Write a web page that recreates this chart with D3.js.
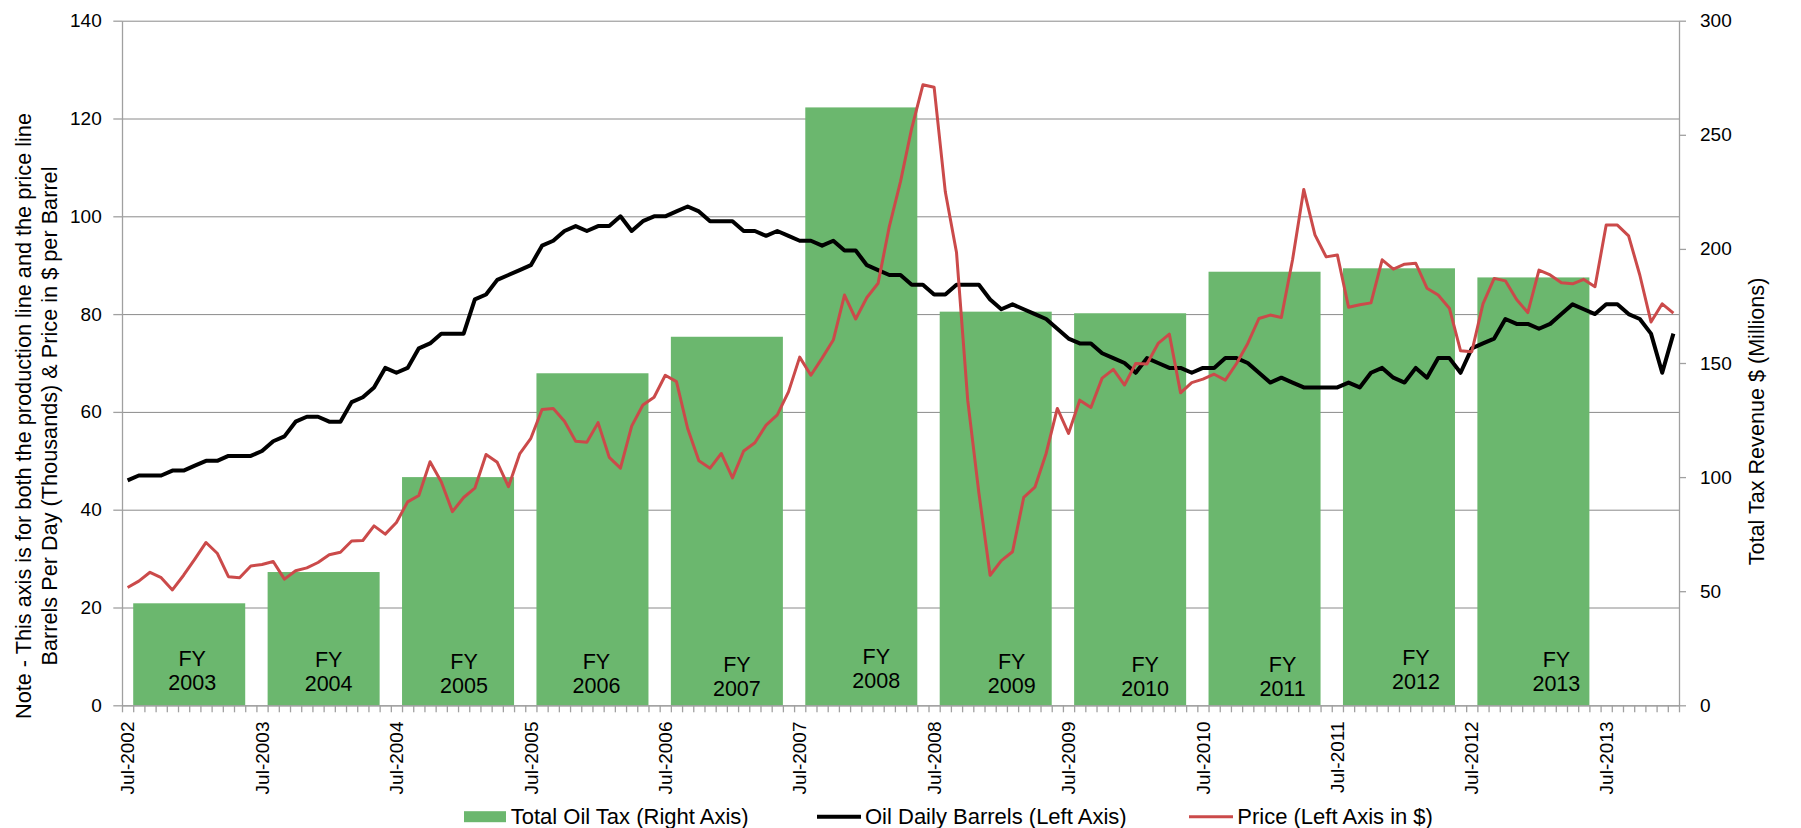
<!DOCTYPE html>
<html>
<head>
<meta charset="utf-8">
<script src="https://cdn.jsdelivr.net/npm/d3@7"></script>
<style>
  body { margin: 0; background: #fff; }
  svg { display: block; font-family: "Liberation Sans", Arial, sans-serif; }
  .grid line { stroke: #8a8a8a; stroke-width: 1; }
  .grid path { display: none; }
  .axis path, .axis line { stroke: #a0a0a0; stroke-width: 1.3; }
  .axis text { fill: #000; }
</style>
</head>
<body>
<div id="chart"></div>
<script>
'use strict';

// monthly categories Jul-2002 .. Jan-2014
var months = d3.timeMonth.range(new Date(2002, 6, 1), new Date(2014, 1, 1));
var monthLabels = ['Jul-2002', 'Jul-2003', 'Jul-2004', 'Jul-2005', 'Jul-2006', 'Jul-2007',
  'Jul-2008', 'Jul-2009', 'Jul-2010', 'Jul-2011', 'Jul-2012', 'Jul-2013'];

// oil daily barrels (thousands), left axis
var barrels = [
  46, 47, 47, 47, 48, 48, 49, 50, 50, 51, 51, 51,
  52, 54, 55, 58, 59, 59, 58, 58, 62, 63, 65, 69,
  68, 69, 73, 74, 76, 76, 76, 83, 84, 87, 88, 89,
  90, 94, 95, 97, 98, 97, 98, 98, 100, 97, 99, 100,
  100, 101, 102, 101, 99, 99, 99, 97, 97, 96, 97, 96,
  95, 95, 94, 95, 93, 93, 90, 89, 88, 88, 86, 86,
  84, 84, 86, 86, 86, 83, 81, 82, 81, 80, 79, 77,
  75, 74, 74, 72, 71, 70, 68, 71, 70, 69, 69, 68,
  69, 69, 71, 71, 70, 68, 66, 67, 66, 65, 65, 65,
  65, 66, 65, 68, 69, 67, 66, 69, 67, 71, 71, 68,
  73, 74, 75, 79, 78, 78, 77, 78, 80, 82, 81, 80,
  82, 82, 80, 79, 76, 68, 76
];

// price $ per barrel, left axis
var price = [
  24.1, 25.4, 27.2, 26.1, 23.6, 26.6, 29.9, 33.3, 31.1, 26.3, 26.1, 28.5,
  28.8, 29.4, 25.8, 27.5, 28.1, 29.2, 30.8, 31.3, 33.6, 33.7, 36.7, 35.0,
  37.4, 41.6, 42.9, 49.8, 45.7, 39.6, 42.5, 44.4, 51.3, 49.7, 44.7, 51.4,
  54.6, 60.5, 60.7, 58.1, 54.0, 53.8, 57.8, 50.7, 48.5, 57.1, 61.4, 63.0,
  67.5, 66.2, 56.6, 50.0, 48.5, 51.5, 46.5, 52.0, 53.7, 57.3, 59.4, 64.1,
  71.2, 67.5, 71.0, 74.7, 83.9, 79.0, 83.4, 86.3, 97.9, 107.1, 118.0, 126.9,
  126.4, 105.0, 92.6, 62.4, 43.4, 26.6, 29.6, 31.4, 42.5, 44.6, 51.5, 60.7,
  55.6, 62.4, 60.9, 66.9, 68.7, 65.5, 69.9, 69.8, 74.0, 75.9, 63.9, 66.0,
  66.7, 67.7, 66.5, 69.9, 74.0, 79.1, 79.8, 79.3, 91.1, 105.5, 96.2, 91.7,
  92.1, 81.4, 81.9, 82.3, 91.1, 89.2, 90.2, 90.4, 85.3, 83.9, 81.2, 72.5,
  72.3, 82.1, 87.3, 86.8, 83.0, 80.3, 89.0, 88.0, 86.4, 86.2, 87.1, 85.6,
  98.2, 98.2, 96.0, 88.0, 78.4, 82.1, 80.2
];

// fiscal years and total oil tax ($ millions), right axis
var fyYears = ['2003', '2004', '2005', '2006', '2007', '2008', '2009', '2010', '2011', '2012', '2013'];
var oilTax = [44.7, 58.4, 100, 145.5, 161.5, 262, 172.5, 171.8, 190, 191.5, 187.5];

var leftTicks = [0, 20, 40, 60, 80, 100, 120, 140];
var rightTicks = [0, 50, 100, 150, 200, 250, 300];

// hand placed FY text boxes: nudge from bar centre
var fyNudge = [[3, 0], [5, 1], [6, 3], [4, 3], [10, 6], [15, -2], [16, 3], [15, 6], [18, 6], [17, -1], [23, 1]];

var graph = { width: 1801, height: 828, left: 122, right: 1679, top: 20.7, bottom: 705.3 };

var svg = d3.select('#chart').append('svg')
  .attr('width', graph.width)
  .attr('height', graph.height);

var xMonth = d3.scaleBand().domain(months).range([graph.left, graph.right]).padding(0);
var xEdge = d3.scaleLinear().domain([0, months.length]).range([graph.left, graph.right]);
var xFY = d3.scaleBand().domain(fyYears)
  .range([graph.left, xEdge(fyYears.length * 12)])
  .paddingInner(2 / 12).paddingOuter(1 / 12);
var yLeft = d3.scaleLinear().domain([0, 140]).range([graph.bottom, graph.top]);
var yRight = d3.scaleLinear().domain([0, 300]).range([graph.bottom, graph.top]);

// gridlines
svg.append('g')
  .attr('class', 'grid')
  .attr('transform', 'translate(' + graph.left + ',0)')
  .call(d3.axisLeft(yLeft).tickValues(leftTicks)
    .tickSize(-(graph.right - graph.left)).tickFormat(''));

// bars
svg.append('g').selectAll('rect')
  .data(fyYears)
  .enter().append('rect')
  .attr('x', function(d) { return xFY(d); })
  .attr('width', xFY.bandwidth())
  .attr('y', function(d, i) { return yRight(oilTax[i]); })
  .attr('height', function(d, i) { return graph.bottom - yRight(oilTax[i]); })
  .attr('fill', '#6bb76e');

// FY labels
var fyText = svg.append('g').selectAll('text')
  .data(fyYears)
  .enter().append('text')
  .attr('text-anchor', 'middle')
  .attr('font-size', 21.5)
  .attr('fill', '#000')
  .attr('transform', function(d, i) {
    return 'translate(' + (xFY(d) + xFY.bandwidth() / 2 + fyNudge[i][0]) + ',' + (658 + fyNudge[i][1]) + ')';
  });
fyText.append('tspan').attr('x', 0).attr('y', 0).attr('dy', '0.35em').text('FY');
fyText.append('tspan').attr('x', 0).attr('y', 24.5).attr('dy', '0.35em').text(function(d) { return d; });

// left axis
var leftAxis = svg.append('g')
  .attr('class', 'axis')
  .attr('transform', 'translate(' + graph.left + ',0)')
  .call(d3.axisLeft(yLeft).tickValues(leftTicks).tickSize(8.7).tickSizeOuter(0).tickPadding(11.6));
leftAxis.selectAll('text').attr('font-size', 19).attr('font-family', '"Liberation Sans", Arial, sans-serif');

// right axis
var rightAxis = svg.append('g')
  .attr('class', 'axis')
  .attr('transform', 'translate(' + graph.right + ',0)')
  .call(d3.axisRight(yRight).tickValues(rightTicks).tickSize(7).tickSizeOuter(0).tickPadding(14));
rightAxis.selectAll('text').attr('font-size', 19).attr('font-family', '"Liberation Sans", Arial, sans-serif');

// bottom axis: a tick at every month boundary
svg.append('g')
  .attr('class', 'axis')
  .attr('transform', 'translate(0,' + graph.bottom + ')')
  .call(d3.axisBottom(xEdge).tickValues(d3.range(months.length + 1)).tickSize(7).tickSizeOuter(0).tickFormat(''));

// bottom labels: Jul of every year, rotated
var fmt = d3.timeFormat('%b-%Y');
var labelMonths = months.filter(function(m) { return monthLabels.indexOf(fmt(m)) >= 0; });
svg.append('g').selectAll('text')
  .data(labelMonths)
  .enter().append('text')
  .attr('transform', function(d) {
    return 'translate(' + (xMonth(d) + xMonth.bandwidth() / 2) + ',721.5) rotate(-90)';
  })
  .attr('text-anchor', 'end')
  .attr('dy', '0.35em')
  .attr('font-size', 19)
  .attr('fill', '#000')
  .text(function(d) { return fmt(d); });

// lines
function lineOf(values) {
  return d3.line()
    .x(function(d, i) { return xMonth(months[i]) + xMonth.bandwidth() / 2; })
    .y(function(d) { return yLeft(d); })(values);
}

svg.append('path')
  .attr('d', lineOf(barrels))
  .attr('fill', 'none')
  .attr('stroke', '#000')
  .attr('stroke-width', 4)
  .attr('stroke-linejoin', 'round');

svg.append('path')
  .attr('d', lineOf(price))
  .attr('fill', 'none')
  .attr('stroke', '#cb4a4a')
  .attr('stroke-width', 3)
  .attr('stroke-linejoin', 'round');

// axis titles
var leftTitle = svg.append('text')
  .attr('transform', 'translate(23,416) rotate(-90)')
  .attr('text-anchor', 'middle')
  .attr('font-size', 21.7)
  .attr('fill', '#000');
leftTitle.append('tspan').attr('x', 0).attr('y', 0).attr('dy', '0.35em')
  .text('Note - This axis is for both the production line and the price line');
leftTitle.append('tspan').attr('x', 0).attr('y', 26).attr('dy', '0.35em')
  .text('Barrels Per Day (Thousands) & Price in $ per Barrel');

svg.append('text')
  .attr('transform', 'translate(1756,421.5) rotate(-90)')
  .attr('text-anchor', 'middle')
  .attr('dy', '0.35em')
  .attr('font-size', 21.6)
  .attr('fill', '#000')
  .text('Total Tax Revenue $ (Millions)');

// legend
var legend = svg.append('g').attr('font-size', 22).attr('fill', '#000');
legend.append('rect').attr('x', 464).attr('y', 811.2).attr('width', 42).attr('height', 11).attr('fill', '#6bb76e');
legend.append('text').attr('x', 510.7).attr('y', 823.5).text('Total Oil Tax (Right Axis)');
legend.append('line').attr('x1', 817).attr('x2', 861).attr('y1', 816.7).attr('y2', 816.7)
  .attr('stroke', '#000').attr('stroke-width', 4);
legend.append('text').attr('x', 865).attr('y', 823.5).text('Oil Daily Barrels (Left Axis)');
legend.append('line').attr('x1', 1189).attr('x2', 1233).attr('y1', 816.7).attr('y2', 816.7)
  .attr('stroke', '#cb4a4a').attr('stroke-width', 3);
legend.append('text').attr('x', 1237.3).attr('y', 823.5).text('Price (Left Axis in $)');
</script>
</body>
</html>
